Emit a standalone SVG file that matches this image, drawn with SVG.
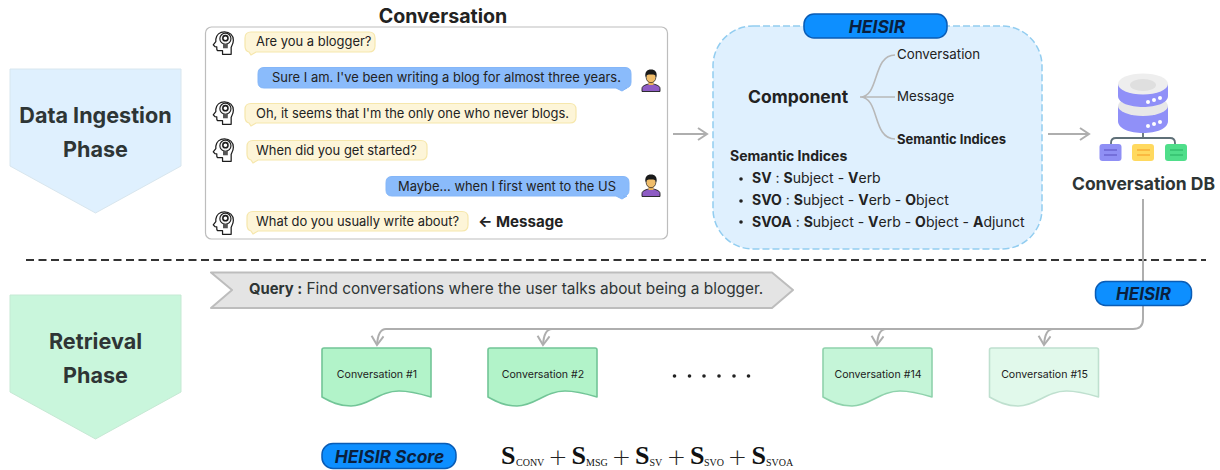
<svg xmlns="http://www.w3.org/2000/svg" width="1220" height="470" viewBox="0 0 1220 470">
<style>
text{font-family:Inter,"Liberation Sans",sans-serif;fill:#222}
.b{font-weight:700}
.phase{font-size:21.6px;font-weight:700;text-anchor:middle;fill:#2e3535}
.msg{font-size:12.95px}
.tree{font-size:13.3px}
.yb{fill:#fdf5d8;stroke:#f6e7ac;stroke-width:1.2}
.bb{fill:#8abbfb;stroke:#84b6f8;stroke-width:1}
.pill{fill:#0d8fff;stroke:#0a5cb5;stroke-width:1.5}
.pt{font-weight:700;font-style:italic;text-anchor:middle;fill:#0a1f3d}
.ln{fill:none;stroke:#aeaeae;stroke-width:2}
.br{fill:none;stroke:#b8b8b8;stroke-width:1.6}
.item{font-size:14px}
.doc{font-size:10.6px;text-anchor:middle}
.S{font-family:"Liberation Serif",serif;font-weight:700;font-size:26px;fill:#111}
.s{font-family:"Liberation Serif",serif;font-size:10px;fill:#111}
.p{font-family:"DejaVu Sans",sans-serif;font-weight:200;font-size:23px;text-anchor:middle;fill:#222}
</style>
<defs>
<symbol id="head" viewBox="0 0 24 25" overflow="visible">
<path d="M11 24.300V20.500H6.500C5.400 20.500 5 19.500 5 18.500V16.500L3 16.200 1.300 14.500 4 11V8.500C4.500 4 8 .800 13 .800 18.500 .800 22.300 4.500 22.300 9.500 22.300 13 21 15 20 17V24.300Z" fill="#fff" stroke="#1d1d1d" stroke-width="1.300" stroke-linejoin="round"/>
<circle cx="14" cy="8" r="5.800" fill="#f3f3f3" stroke="#1d1d1d" stroke-width="1.200"/>
<circle cx="14" cy="7.500" r="2.700" fill="#fff" stroke="#1d1d1d" stroke-width="1.600"/>
<rect x="11.500" y="13.500" width="5" height="4.500" fill="#555"/>
</symbol>
<symbol id="user" viewBox="0 0 20 23" overflow="visible">
<path d="M1 22.500V19.500C1 17 4 16 7.500 15H12.500C16 16 19 17 19 19.500V22.500Z" fill="#8e5cc4" stroke="#1d1d1d" stroke-width=".9"/>
<rect x="7.500" y="11" width="5" height="5" fill="#e9b25b"/>
<ellipse cx="10" cy="8.500" rx="4.800" ry="5.200" fill="#f0bd6a" stroke="#1d1d1d" stroke-width=".7"/>
<path d="M4.500 8.500C3.500 3 6 .500 10 .500S16.500 3 15.500 8.500C15 6.500 14 5.500 12 5.500H8C6 5.500 5 6.500 4.500 8.500Z" fill="#1a1a1a"/>
</symbol>
<symbol id="doc" viewBox="0 0 111 60" overflow="visible">
<path d="M1 3Q1 1 3 1H108Q110 1 110 3V50C100 47 90 44 78 44 58 44 48 59 30 59 18 59 10 55 1 50Z" stroke-width="1.600" stroke-linejoin="round"/>
</symbol>
<marker id="ah" viewBox="0 0 14 14" refX="12" refY="7" markerWidth="14" markerHeight="14" markerUnits="userSpaceOnUse" orient="auto">
<path d="M3 1 12 7 3 13" fill="none" stroke="#aeaeae" stroke-width="2"/>
</marker>
</defs>

<g id="phase-ingestion">
<path d="M10 69H181V166L95.500 213 10 166Z" fill="#dff0fe" stroke="#d8e6ee" stroke-width="1" stroke-linejoin="round"/>
<text class="phase" x="95.500" y="123">Data Ingestion</text>
<text class="phase" x="95.500" y="157">Phase</text>
</g>
<g id="phase-retrieval">
<path d="M10 295H181V392L95.500 439 10 392Z" fill="#c9f6dc" stroke="#c6e9d4" stroke-width="1" stroke-linejoin="round"/>
<text class="phase" x="95.500" y="349">Retrieval</text>
<text class="phase" x="95.500" y="383">Phase</text>
</g>

<g id="divider"><path d="M26 260H1206" stroke="#333" stroke-width="2" stroke-dasharray="8 4.500" fill="none"/></g>

<g id="connectors">
<path class="ln" d="M673 134H707" marker-end="url(#ah)"/>
<path class="ln" d="M1048 134H1089" marker-end="url(#ah)"/>
<path class="ln" d="M1143 199V319Q1143 329 1133 329H386Q378 329 377 345" marker-end="url(#ah)"/>
<path class="ln" d="M552 329Q544 329 543 345" marker-end="url(#ah)"/>
<path class="ln" d="M886 329Q878 329 877 345" marker-end="url(#ah)"/>
<path class="ln" d="M1053 329Q1045 329 1044 345" marker-end="url(#ah)"/>
</g>

<g id="conversation">
<text class="b" x="443" y="23" font-size="19.600" text-anchor="middle">Conversation</text>
<rect x="205.500" y="27" width="462" height="212" rx="6" fill="#fff" stroke="#bdbdbd" stroke-width="1.200"/>
<use href="#head" x="212" y="31" width="23" height="24"/>
<use href="#head" x="212" y="101" width="23" height="24"/>
<use href="#head" x="212" y="138" width="23" height="24"/>
<use href="#head" x="212" y="211" width="23" height="24"/>
<use href="#user" x="641" y="69" width="20" height="23"/>
<use href="#user" x="641" y="174" width="20" height="23"/>
<path class="yb" d="M251 32H369Q375 32 375 38V46Q375 52 369 52H256L251 55 249 52Q245 51 245 46V38Q245 32 251 32Z"/>
<text class="msg" x="256" y="46">Are you a blogger?</text>
<path class="bb" d="M264 67.500H625Q631 67.500 631 73.500V82Q631 88 625 88H627L622 91 616 88H264Q258 88 258 82V73.500Q258 67.500 264 67.500Z"/>
<text class="msg" x="272" y="82">Sure I am. I've been writing a blog for almost three years.</text>
<path class="yb" d="M251 103.500H570Q576 103.500 576 109.500V117Q576 123 570 123H256L251 126 249 123Q245 122 245 117V109.500Q245 103.500 251 103.500Z"/>
<text class="msg" x="256" y="118">Oh, it seems that I'm the only one who never blogs.</text>
<path class="yb" d="M253 140.500H421Q427 140.500 427 146.500V154Q427 160 421 160H258L253 163 251 160Q247 159 247 154V146.500Q247 140.500 253 140.500Z"/>
<text class="msg" x="256" y="155">When did you get started?</text>
<path class="bb" d="M392 176.500H623Q629 176.500 629 182.500V190Q629 196 623 196H627L622 199 616 196H392Q386 196 386 190V182.500Q386 176.500 392 176.500Z"/>
<text class="msg" x="398" y="191">Maybe... when I first went to the US</text>
<path class="yb" d="M253 211.500H462Q468 211.500 468 217.500V225Q468 231 462 231H258L253 234 251 231Q247 230 247 225V217.500Q247 211.500 253 211.500Z"/>
<text class="msg" x="256" y="226">What do you usually write about?</text>
<text class="b" x="478" y="226.500" font-size="15.100">← Message</text>
</g>

<g id="heisir-box">
<rect x="713" y="26" width="329" height="223" rx="40" fill="#dff0fe" stroke="#92cdf0" stroke-width="1.500" stroke-dasharray="7 3"/>
<rect class="pill" x="804" y="14" width="143" height="24" rx="10"/>
<text class="pt" x="877" y="33" font-size="17.500">HEISIR</text>
<text class="b" x="748" y="103" font-size="17.500">Component</text>
<path class="br" d="M860 97C880 97 872 55 895 55M860 97H895M860 97C880 97 872 139 895 139"/>
<text class="tree" x="897" y="59">Conversation</text>
<text class="tree" x="897" y="101">Message</text>
<text class="b" x="897" y="144" font-size="13">Semantic Indices</text>
<text class="b" x="730" y="161" font-size="14">Semantic Indices</text>
<circle cx="741" cy="179" r="1.800" fill="#222"/>
<circle cx="741" cy="201" r="1.800" fill="#222"/>
<circle cx="741" cy="222" r="1.800" fill="#222"/>
<text class="item" x="752" y="183"><tspan class="b">SV</tspan> : <tspan class="b">S</tspan>ubject - <tspan class="b">V</tspan>erb</text>
<text class="item" x="752" y="205"><tspan class="b">SVO</tspan> : <tspan class="b">S</tspan>ubject - <tspan class="b">V</tspan>erb - <tspan class="b">O</tspan>bject</text>
<text class="item" x="752" y="227"><tspan class="b">SVOA</tspan> : <tspan class="b">S</tspan>ubject - <tspan class="b">V</tspan>erb - <tspan class="b">O</tspan>bject - <tspan class="b">A</tspan>djunct</text>
</g>

<g id="conversation-db">
<path d="M1143 120V139M1111 146V143Q1111 138 1116 138H1170Q1175 138 1175 143V146" fill="none" stroke="#5f7078" stroke-width="1.800"/>
<path d="M1118 106V121C1118 129 1130 133 1143 133S1168 129 1168 121V106Z" fill="#9090f8"/>
<ellipse cx="1143" cy="106" rx="25" ry="10" fill="#e8e8e8"/>
<path d="M1118 84V96C1118 103 1130 107 1143 107S1168 103 1168 96V84Z" fill="#9090f8"/>
<ellipse cx="1143" cy="84" rx="25" ry="10.500" fill="#eeeeee"/>
<ellipse cx="1143" cy="85" rx="13" ry="6" fill="#dfdfdf"/>
<g fill="#fff"><circle cx="1148" cy="102" r="2"/><circle cx="1154" cy="100" r="2"/><circle cx="1160" cy="98" r="2"/><circle cx="1148" cy="126" r="2"/><circle cx="1154" cy="124" r="2"/><circle cx="1160" cy="122" r="2"/></g>
<rect x="1099.500" y="144" width="22" height="17" rx="3" fill="#8f8ff5"/>
<rect x="1132" y="144" width="22" height="17" rx="3" fill="#ffd95f"/>
<rect x="1165" y="144" width="22" height="17" rx="3" fill="#4fde8a"/>
<path d="M1104 150H1117M1104 155H1117" stroke="#5a50c0" stroke-width="1.200"/>
<path d="M1137 150H1150M1137 155H1150" stroke="#f59a23" stroke-width="1.200"/>
<path d="M1170 150H1183M1170 155H1183" stroke="#27b060" stroke-width="1.200"/>
<text class="b" x="1143.500" y="190" font-size="17.500" text-anchor="middle" style="fill:#2e3535">Conversation DB</text>
</g>

<g id="query">
<path d="M211 272.500H772L793 290 772 308H211L232 290Z" fill="#e4e4e4" stroke="#bdbdbd" stroke-width="2" stroke-linejoin="round"/>
<text x="249" y="294" font-size="15.400" style="fill:#2e3535"><tspan class="b" font-size="14.800">Query :</tspan> Find conversations where the user talks about being a blogger.</text>
</g>

<g id="heisir-pill">
<rect class="pill" x="1095.500" y="281.500" width="96" height="24" rx="10"/>
<text class="pt" x="1143.500" y="299.500" font-size="17">HEISIR</text>
</g>

<g id="doc-1"><use href="#doc" x="321" y="347" width="111" height="60" fill="#b2f3c9" stroke="#72c597"/><text class="doc" x="377" y="378">Conversation #1</text></g>
<g id="doc-2"><use href="#doc" x="487" y="347" width="111" height="60" fill="#b2f3c9" stroke="#72c597"/><text class="doc" x="543" y="378">Conversation #2</text></g>
<g id="doc-14"><use href="#doc" x="822" y="347" width="111" height="60" fill="#c5f5d8" stroke="#8fd2ac"/><text class="doc" x="878" y="378">Conversation #14</text></g>
<g id="doc-15"><use href="#doc" x="988.500" y="347" width="111" height="60" fill="#e1f9eb" stroke="#bfe0cf"/><text class="doc" x="1044.500" y="378">Conversation #15</text></g>
<g id="ellipsis" fill="#222"><circle cx="674.500" cy="376" r="1.800"/><circle cx="689.500" cy="376" r="1.800"/><circle cx="704" cy="376" r="1.800"/><circle cx="719" cy="376" r="1.800"/><circle cx="734" cy="376" r="1.800"/><circle cx="748.500" cy="376" r="1.800"/></g>

<g id="score">
<rect class="pill" x="322" y="443.500" width="134" height="25" rx="11"/>
<text class="pt" x="389.500" y="462.500" font-size="17.400">HEISIR Score</text>
</g>
<g id="formula">
<text class="S" x="501" y="464">S</text><text class="s" x="516" y="465.500">CONV</text>
<text class="p" x="558" y="464.500">+</text>
<text class="S" x="571.500" y="464">S</text><text class="s" x="586" y="465.500">MSG</text>
<text class="p" x="621.500" y="464.500">+</text>
<text class="S" x="635" y="464">S</text><text class="s" x="649.500" y="465.500">SV</text>
<text class="p" x="676.500" y="464.500">+</text>
<text class="S" x="690" y="464">S</text><text class="s" x="704" y="465.500">SVO</text>
<text class="p" x="737.500" y="464.500">+</text>
<text class="S" x="751.500" y="464">S</text><text class="s" x="766" y="465.500">SVOA</text>
</g>
</svg>
